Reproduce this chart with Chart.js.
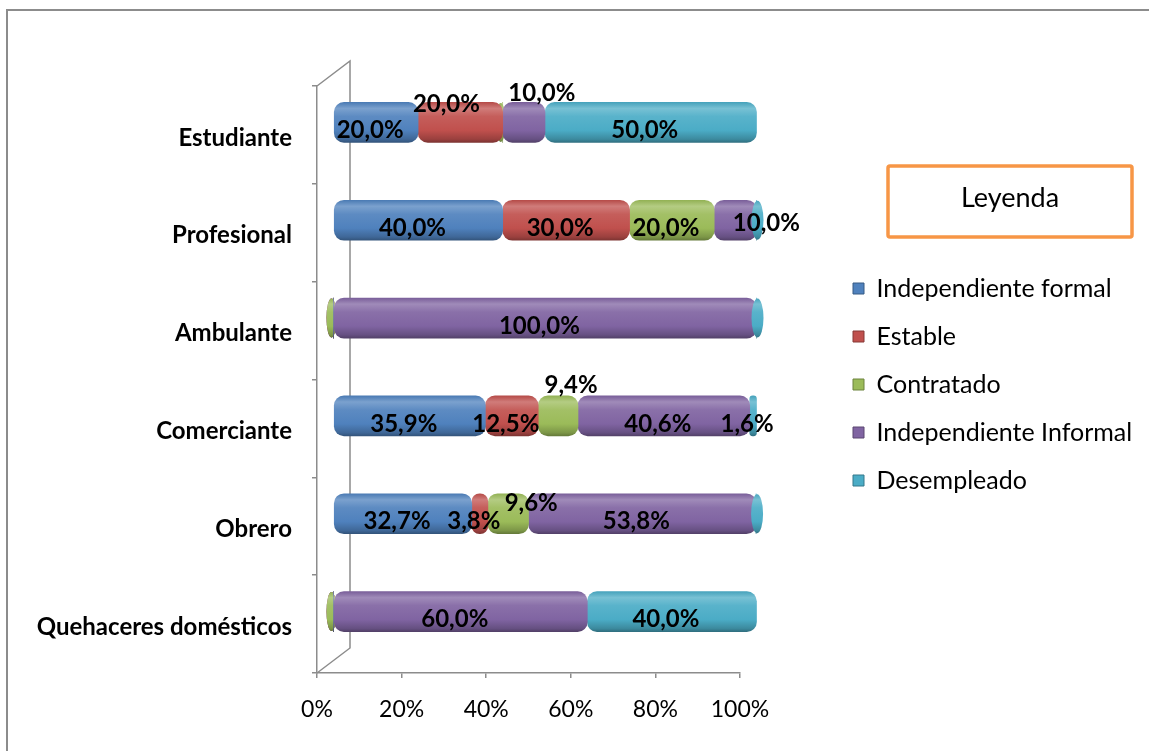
<!DOCTYPE html>
<html>
<head>
<meta charset="utf-8">
<script src="https://cdn.jsdelivr.net/npm/chart.js@4.4.1/dist/chart.umd.min.js"></script>
<style>
  html, body { margin: 0; padding: 0; background: #fff; }
  #wrap { width: 1149px; height: 751px; }
</style>
</head>
<body>
<div id="wrap"><canvas id="chart" width="1149" height="751"></canvas></div>
<script>
const categories = ['Estudiante', 'Profesional', 'Ambulante', 'Comerciante', 'Obrero', 'Quehaceres domésticos'];
const seriesNames = ['Independiente formal', 'Estable', 'Contratado', 'Independiente Informal', 'Desempleado'];
const indepFormal = [20.0, 40.0, 0, 35.9, 32.7, 0];
const estable = [20.0, 30.0, 0, 12.5, 3.8, 0];
const contratado = [0, 20.0, 0, 9.4, 9.6, 0];
const indepInformal = [10.0, 10.0, 100.0, 40.6, 53.8, 60.0];
const desempleado = [50.0, 0, 0, 1.6, 0, 40.0];
const xTicks = [0, 20, 40, 60, 80, 100];

const seriesValues = [indepFormal, estable, contratado, indepInformal, desempleado];
const colors = ['#4f81bd', '#c0504d', '#9bbb59', '#8064a2', '#4bacc6'];

// 3D look: bars sit half way into the depth of the plot
const DEPTH = { dx: 33, dy: -25 };
const BAR_SHIFT = { dx: 16.5, dy: -12.5 };
const BAR_T = 40;
const FONT = 'Lato';

// label nudges (row-series), everything else uses the default
const labelDefault = [-6, 8];
const labelNudge = {
  '0-1': [-14, -18], '0-3': [18, -29],
  '1-3': [31, 3],
  '3-2': [13, -31],
  '4-2': [23, -10]
};

function mix(hex, amt) {
  const n = parseInt(hex.slice(1), 16);
  let r = n >> 16, g = (n >> 8) & 255, b = n & 255;
  const t = amt > 0 ? 255 : 0, a = Math.abs(amt);
  r = Math.round(r + (t - r) * a); g = Math.round(g + (t - g) * a); b = Math.round(b + (t - b) * a);
  return `rgb(${r},${g},${b})`;
}

function cylinder(ctx, color, top, bottom) {
  const g = ctx.createLinearGradient(0, top, 0, bottom);
  g.addColorStop(0, mix(color, -0.05));
  g.addColorStop(0.15, mix(color, 0.25));
  g.addColorStop(0.35, mix(color, 0.08));
  g.addColorStop(0.7, color);
  g.addColorStop(0.92, mix(color, -0.2));
  g.addColorStop(1, mix(color, -0.35));
  return g;
}

const fmt = (v) => v.toFixed(1).replace('.', ',') + '%';

function drawCaps(chart, onTop) {
  const c = chart.ctx, right = chart.chartArea.right;
  chart.data.datasets.forEach((ds, i) => {
    chart.getDatasetMeta(i).data.forEach((el, j) => {
      if (ds.data[j] !== 0) return;
      const atEnd = el.x >= right - 1;
      if (atEnd !== onTop) return;
      c.fillStyle = cylinder(c, colors[i], el.y - BAR_T / 2, el.y + BAR_T / 2);
      c.beginPath();
      c.ellipse(atEnd ? el.x + 1 : el.x - 2, el.y, atEnd ? 6 : 5, BAR_T / 2 - 0.5, 0, 0, Math.PI * 2);
      c.fill();
    });
  });
}

const frame = {
  id: 'frame',
  beforeDraw(chart) {
    const c = chart.ctx, a = chart.chartArea;
    c.save();
    c.strokeStyle = '#8c8c8c';
    c.lineWidth = 2;
    c.strokeRect(7, 10, 1300, 900);
    // back wall and floor edge
    c.lineWidth = 1.5;
    c.beginPath();
    c.moveTo(a.left, a.top); c.lineTo(a.left + DEPTH.dx, a.top + DEPTH.dy);
    c.lineTo(a.left + DEPTH.dx, a.bottom + DEPTH.dy); c.lineTo(a.left, a.bottom);
    c.stroke();
    // "Leyenda" box
    c.strokeStyle = '#f79646';
    c.lineWidth = 3.5;
    c.beginPath();
    c.roundRect(888, 166, 244, 71, 2);
    c.stroke();
    c.fillStyle = '#000';
    c.font = `27px ${FONT}`;
    c.textAlign = 'center';
    c.textBaseline = 'middle';
    c.fillText('Leyenda', 1010, 198);
    c.restore();
  },
  afterLayout(chart) {
    const lg = chart.legend;
    lg.top += 5;
    lg.bottom += 5;
    lg.right = 1149;
    lg.width = lg.right - lg.left;
  },
  beforeDatasetsDraw(chart) {
    const c = chart.ctx;
    c.save();
    c.translate(BAR_SHIFT.dx, BAR_SHIFT.dy);
    drawCaps(chart, false);
  },
  afterDatasetsDraw(chart) {
    const c = chart.ctx;
    drawCaps(chart, true);
    c.fillStyle = '#000';
    c.font = `bold 24px ${FONT}`;
    c.textAlign = 'center';
    c.textBaseline = 'middle';
    chart.data.datasets.forEach((ds, i) => {
      chart.getDatasetMeta(i).data.forEach((el, j) => {
        const v = ds.data[j];
        if (!v) return;
        const [dx, dy] = labelNudge[j + '-' + i] || labelDefault;
        c.fillText(fmt(v), (el.x + el.base) / 2 + dx, el.y + dy);
      });
    });
    c.restore();
  }
};

new Chart(document.getElementById('chart'), {
  type: 'bar',
  data: {
    labels: categories,
    datasets: seriesNames.map((name, i) => ({
      label: name,
      data: seriesValues[i],
      barThickness: BAR_T,
      borderRadius: { topLeft: 10, topRight: 10, bottomLeft: 10, bottomRight: 10 },
      borderSkipped: false,
      clip: false,
      backgroundColor: (c) => {
        const sy = c.chart.scales && c.chart.scales.y;
        if (c.type !== 'data' || !sy || !c.chart.chartArea) return colors[i];
        const cy = sy.getPixelForValue(c.dataIndex);
        return cylinder(c.chart.ctx, colors[i], cy - BAR_T / 2, cy + BAR_T / 2);
      }
    }))
  },
  options: {
    indexAxis: 'y',
    responsive: false,
    animation: false,
    devicePixelRatio: 1,
    layout: { padding: { left: 0, top: 86, right: 169, bottom: 28 } },
    scales: {
      x: {
        stacked: true, min: 0, max: 100,
        afterBuildTicks: (s) => { s.ticks = xTicks.map(v => ({ value: v })); },
        afterFit: (s) => { s.height = 50; },
        ticks: { callback: (v) => v + '%', color: '#000', font: { family: FONT, size: 23 }, padding: 18, maxRotation: 0 },
        grid: { drawOnChartArea: false, tickLength: 5, color: '#8c8c8c', lineWidth: 1.5 },
        border: { color: '#8c8c8c', width: 1.5 }
      },
      y: {
        stacked: true,
        afterFit: (s) => { s.width = 317; },
        ticks: { color: '#000', font: { family: FONT, size: 24, weight: 'bold' }, padding: 20, labelOffset: 3 },
        grid: { drawOnChartArea: false, tickLength: 5, offset: true, color: '#8c8c8c', lineWidth: 1.5 },
        border: { color: '#8c8c8c', width: 1.5 }
      },
      gap: {
        type: 'category', position: 'right', axis: 'y',
        afterFit: (s) => { s.width = 90; },
        ticks: { display: false },
        grid: { display: false },
        border: { display: false }
      }
    },
    plugins: {
      legend: {
        position: 'right',
        align: 'center',
        fullSize: false,
        maxWidth: 150,
        labels: {
          color: '#000',
          font: { family: FONT, size: 25 },
          boxWidth: 11,
          boxHeight: 11,
          padding: 23,
          generateLabels: (chart) => chart.data.datasets.map((ds, i) => ({
            text: ds.label,
            fillStyle: colors[i],
            strokeStyle: mix(colors[i], -0.3),
            lineWidth: 1,
            datasetIndex: i,
            hidden: false
          }))
        }
      },
      tooltip: { enabled: false }
    }
  },
  plugins: [frame]
});
</script>
</body>
</html>
